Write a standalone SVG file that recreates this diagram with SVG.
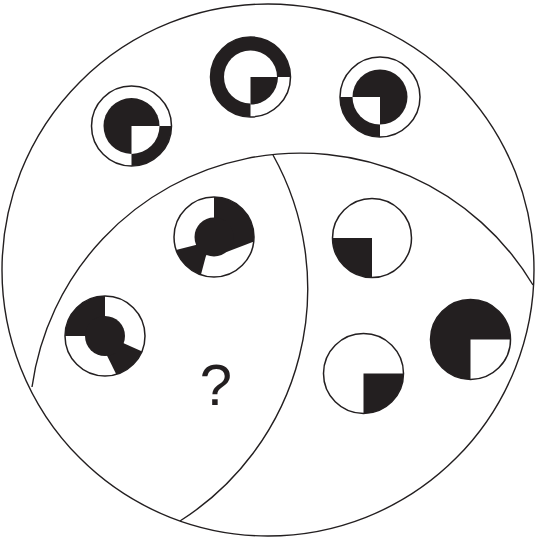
<svg xmlns="http://www.w3.org/2000/svg" width="536" height="540" viewBox="0 0 536 540">
<style>
.k{fill:#231f20}
.w{fill:#fff}
.o{fill:none;stroke:#231f20;stroke-width:1.5}
.ln{fill:none;stroke:#231f20;stroke-width:1.4}
.q{font-family:"Liberation Sans",Arial,sans-serif;font-size:58px;fill:#231f20}
</style>
<defs>
<clipPath id="c40"><circle r="40"/></clipPath>
</defs>
<rect width="536" height="540" fill="#fff"/>
<g id="connectors">
<circle class="ln" cx="268" cy="270" r="266"/>
<path class="ln" d="M32 387 A271 271 0 0 1 533 285"/>
<path class="ln" d="M273 155 A275 275 0 0 1 180 521"/>
</g>
<g id="fig1" transform="translate(131.5,126)">
<circle class="w" r="40"/>
<circle class="k" r="28"/>
<path class="k" d="M0 0 L40 0 A40 40 0 0 1 0 40 Z"/>
<path class="w" d="M0 0 L28 0 A28 28 0 0 1 0 28 Z"/>
<circle class="o" r="40"/>
</g>
<g id="fig2" transform="translate(250.5,77)">
<circle class="k" r="40"/>
<circle class="w" r="26.5"/>
<path class="w" d="M0 0 L40 0 A40 40 0 0 1 0 40 Z"/>
<path class="k" d="M0 0 L27.5 0 A27.5 27.5 0 0 1 0 27.5 Z"/>
<circle class="o" r="40"/>
</g>
<g id="fig3" transform="translate(380,97)">
<circle class="w" r="40"/>
<circle class="k" r="27.5"/>
<path class="k" d="M0 0 L0 40 A40 40 0 0 1 -40 0 Z"/>
<path class="w" d="M0 0 L0 27.5 A27.5 27.5 0 0 1 -27.5 0 Z"/>
<circle class="o" r="40"/>
</g>
<g id="fig4" transform="translate(214,237)">
<circle class="w" r="40"/>
<g clip-path="url(#c40)">
<path class="k" d="M0 0 L0 -50 L50 -50 L50 0.6 L11.9 15.2 Z"/>
<path class="k" d="M0 0 L-8.3 19.7 L-16.3 50 L-50 50 L-50 15.9 L-18.3 8 Z"/>
</g>
<circle class="k" r="19.5"/>
<circle class="o" r="40"/>
</g>
<g id="fig5" transform="translate(105,336)">
<circle class="w" r="40"/>
<g clip-path="url(#c40)">
<path class="k" d="M0 0 L-50 0 L-50 -50 L0 -50 Z"/>
<path class="k" d="M0 0 L15.3 5.7 L50 21.3 L50 50 L17.1 50 L1.7 19 Z"/>
</g>
<circle class="k" r="20"/>
<circle class="o" r="40"/>
</g>
<g id="fig6" transform="translate(372,238)">
<circle class="w" r="39.5"/>
<path class="k" d="M0 0 L0 39.5 A39.5 39.5 0 0 1 -39.5 0 Z"/>
<circle class="o" r="39.5"/>
</g>
<g id="fig7" transform="translate(363.5,373.5)">
<circle class="w" r="40"/>
<path class="k" d="M0 0 L40 0 A40 40 0 0 1 0 40 Z"/>
<circle class="o" r="40"/>
</g>
<g id="fig8" transform="translate(470.5,339.5)">
<circle class="k" r="40"/>
<path class="w" d="M0 0 L40 0 A40 40 0 0 1 0 40 Z"/>
<circle class="o" r="40"/>
</g>
<g id="question">
<text class="q" x="216" y="405" text-anchor="middle">?</text>
</g>
</svg>
